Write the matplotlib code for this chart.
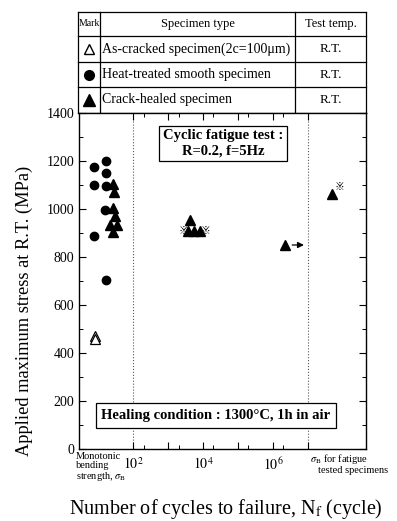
import matplotlib.pyplot as plt

plt.rcParams['font.family'] = ['Liberation Serif', 'DejaVu Serif']
plt.rcParams['mathtext.fontset'] = 'stix'

W, H = 397, 521

# legend table
table_header = ['Mark', 'Specimen type', 'Test temp.']
table_types = ['As-cracked specimen(2c=100\u03bcm)', 'Heat-treated smooth specimen', 'Crack-healed specimen']
table_temps = ['R.T.', 'R.T.', 'R.T.']

# data: x in cycles; the monotonic and sigma_B columns sit on the same log axis
cracked_x = [8.2, 8.2]
cracked_y = [470, 457]
heat_x = [7.7, 7.7, 7.7, 17, 17, 16.5, 16, 17]
heat_y = [1175, 1098, 888, 1198, 1150, 1095, 996, 705]
healed_mono_x = [27, 29, 27, 30, 22, 35, 27]
healed_mono_y = [1105, 1070, 1003, 970, 933, 933, 905]
fatigue_x = [4250, 3700, 5500, 8200]
fatigue_y = [954, 908, 908, 908]
runout_x = [2.2e6]
runout_y = [850]
sigma_b_x = [4.9e7]
sigma_b_y = [1062]
note_x = [2700, 11500, 8.2e7]
note_y = [910, 910, 1090]

yticks = list(range(0, 1401, 200))
xticks = [1e2, 1e3, 1e4, 1e5, 1e6, 1e7]
xtick_labels = ['$10^{2}$', '', '$10^{4}$', '', '$10^{6}$', '']


def fx(x):
    return x / W


def fy(y):
    return 1 - y / H


fig = plt.figure(figsize=(W / 100, H / 100), dpi=100)

# ---- table on top ----
ax_t = fig.add_axes([fx(78), fy(113), 288 / W, 101 / H])
ax_t.set_xlim(0, 288)
ax_t.set_ylim(101, 0)
ax_t.axis('off')
col_edges = [0, 22, 217, 288]
row_edges = [0, 24, 50, 75, 101]
for c in col_edges:
    ax_t.plot([c, c], [0, 101], color='k', lw=0.9, clip_on=False)
for r in row_edges:
    ax_t.plot([0, 288], [r, r], color='k', lw=0.9, clip_on=False)

col_mid = [(col_edges[i] + col_edges[i + 1]) / 2 for i in range(3)]
row_mid = [(row_edges[i] + row_edges[i + 1]) / 2 for i in range(4)]
header_sizes = [7, 9, 9]
for i, h in enumerate(table_header):
    ax_t.text(col_mid[i], row_mid[0], h, ha='center', va='center', fontsize=header_sizes[i])
for i in range(3):
    ax_t.text(col_edges[1] + 2, row_mid[i + 1], table_types[i], ha='left', va='center', fontsize=10)
    ax_t.text(col_mid[2], row_mid[i + 1], table_temps[i], ha='center', va='center', fontsize=9.5)
ax_t.plot(col_mid[0], row_mid[1], '^', ms=7, mfc='white', mec='k', mew=1.0)
ax_t.plot(col_mid[0], row_mid[2], 'o', ms=7, color='k')
ax_t.plot(col_mid[0], row_mid[3], '^', ms=8, color='k')

# ---- main plot ----
ax = fig.add_axes([fx(79), fy(449), 287 / W, 336 / H])
ax.set_xscale('log')
ax.set_xlim(10 ** 0.457, 10 ** 8.66)
ax.set_ylim(0, 1400)

ax.axvline(1e2, ls=':', color='0.35', lw=0.8, zorder=1)
ax.axvline(1e7, ls=':', color='0.35', lw=0.8, zorder=1)

ax.plot(cracked_x, cracked_y, '^', ms=7, mfc='white', mec='k', mew=0.9, zorder=3)
ax.plot(heat_x, heat_y, 'o', ms=6, color='k', zorder=3)
ax.plot(healed_mono_x, healed_mono_y, '^', ms=7, color='k', zorder=3)
ax.plot(fatigue_x, fatigue_y, '^', ms=7, color='k', zorder=3)
ax.plot(runout_x, runout_y, '^', ms=7, color='k', zorder=3)
ax.plot(sigma_b_x, sigma_b_y, '^', ms=7, color='k', zorder=3)
for x, y in zip(runout_x, runout_y):
    ax.annotate('', xy=(x * 4.2, y), xytext=(x * 1.35, y),
                arrowprops=dict(arrowstyle='-|>', lw=0.9, color='k', mutation_scale=9))
for x, y in zip(note_x, note_y):
    ax.text(x, y, '\u203b', fontsize=7, fontweight='bold', family=['Noto Sans CJK JP', 'DejaVu Sans'],
            ha='center', va='center', zorder=4)

ax.set_yticks(yticks)
ax.set_yticks(range(100, 1400, 200), minor=True)
ax.set_xticks(xticks)
ax.set_xticklabels(xtick_labels)
ax.set_xticks([2e2, 2e3, 2e4, 2e5, 2e6], minor=True)
ax.xaxis.set_minor_formatter(plt.NullFormatter())
ax.tick_params(which='both', direction='in', top=True, right=True, labelsize=10)
ax.tick_params(which='major', length=5, width=0.8)
ax.tick_params(which='minor', length=3, width=0.7)
ax.tick_params(axis='x', pad=5)
for s in ax.spines.values():
    s.set_linewidth(1.0)

ax.text(0.502, 0.909, 'Cyclic fatigue test :\nR=0.2, f=5Hz', transform=ax.transAxes,
        ha='center', va='center', fontsize=10.5, fontweight='bold', linespacing=1.25,
        bbox=dict(boxstyle='square,pad=0.25', fc='white', ec='k', lw=0.9), zorder=5)
ax.text(0.477, 0.10, 'Healing condition : 1300\u00b0C, 1h in air', transform=ax.transAxes,
        ha='center', va='center', fontsize=10.5, fontweight='bold',
        bbox=dict(boxstyle='square,pad=0.4', fc='white', ec='k', lw=0.9), zorder=5)

ax.set_ylabel('Applied maximum stress at R.T. (MPa)', fontsize=13.2)
ax.yaxis.set_label_coords(-0.16, 0.41)
ax.set_xlabel(r'Number of cycles to failure, N$_\mathrm{f}$ (cycle)', fontsize=14.5)
ax.xaxis.set_label_coords(0.51, -0.143)

fig.text(fx(76), fy(452), 'Monotonic\nbending', ha='left', va='top', fontsize=7.5, linespacing=0.95)
fig.text(fx(76), fy(470), 'strength, $\\sigma_\\mathrm{B}$', ha='left', va='top', fontsize=7.5)
fig.text(fx(310), fy(452), '$\\sigma_\\mathrm{B}$ for fatigue', ha='left', va='top', fontsize=7.5)
fig.text(fx(318), fy(466), 'tested specimens', ha='left', va='top', fontsize=7.5)

fig.savefig('out.png', dpi=100)
